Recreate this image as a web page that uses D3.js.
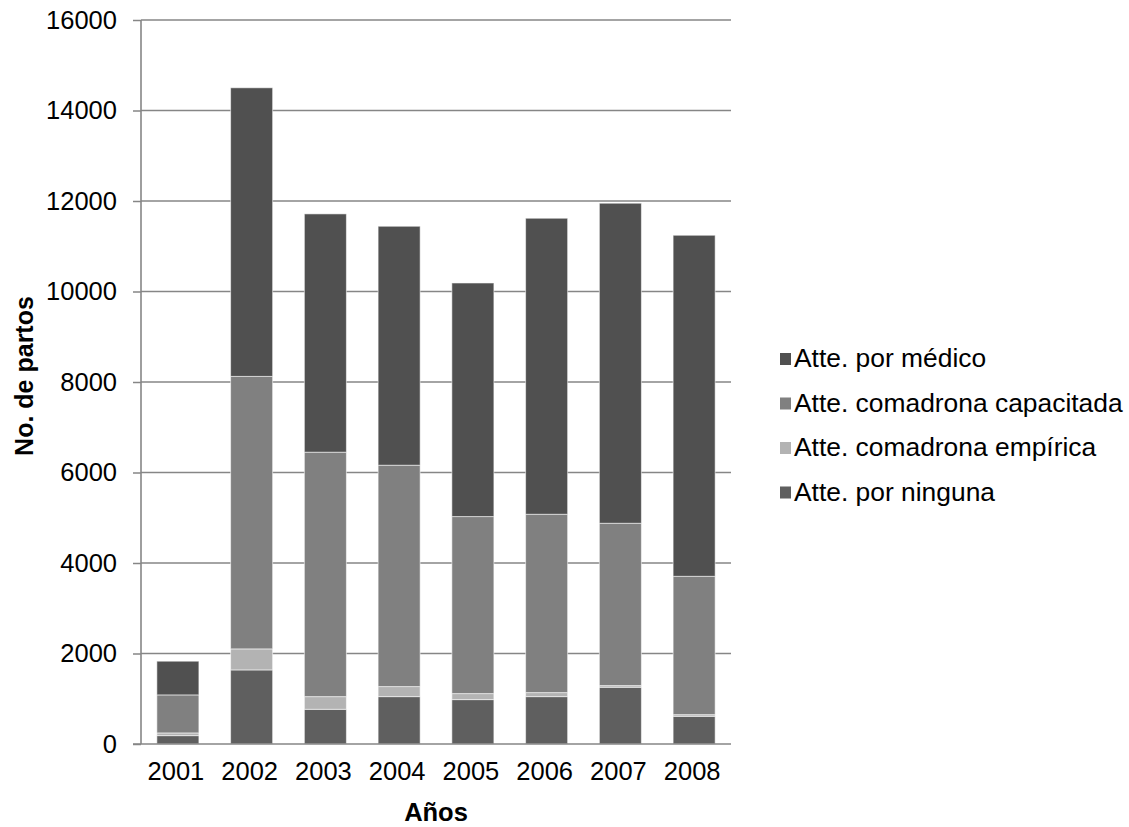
<!DOCTYPE html>
<html>
<head>
<meta charset="utf-8">
<script src="https://cdn.jsdelivr.net/npm/d3@7"></script>
<style>
  body { margin: 0; background: #fff; }
  text { font-family: "Liberation Sans", Arial, sans-serif; fill: #000; }
</style>
</head>
<body>
<div id="chart"></div>
<script>

// 1. Data

const years = ["2001", "2002", "2003", "2004", "2005", "2006", "2007", "2008"]

const ninguna     = [185, 1637, 767, 1047, 981, 1047, 1254, 612]
const empirica    = [60, 465, 280, 222, 133, 89, 37, 37]
const capacitada  = [840, 6022, 5402, 4892, 3912, 3941, 3587, 3057]
const medico      = [745, 6378, 5266, 5281, 5162, 6542, 7073, 7537]

const seriesNames  = ["Atte. por ninguna", "Atte. comadrona empírica", "Atte. comadrona capacitada", "Atte. por médico"]
const seriesValues = [ninguna, empirica, capacitada, medico]
const seriesColors = ["#5f5f5f", "#b3b3b3", "#808080", "#505050"]

const yTicks = [0, 2000, 4000, 6000, 8000, 10000, 12000, 14000, 16000]

// 2. Dimensions

const width = 1129
const height = 827
const margin = { top: 20, left: 141, right: 398, bottom: 83 }
const plotW = width - margin.left - margin.right
const plotH = height - margin.top - margin.bottom

const svg = d3.select("#chart")
  .append("svg")
    .attr("width", width)
    .attr("height", height)

const bounds = svg.append("g")
    .attr("transform", `translate(${margin.left},${margin.top})`)

// 3. Scales

const x = d3.scaleBand()
    .domain(years)
    .range([0, plotW])
    .paddingInner(0.43)
    .paddingOuter(0.215)

const y = d3.scaleLinear()
    .domain([0, 16000])
    .range([plotH, 0])

const table = years.map((yr, i) => {
  const row = { year: yr }
  seriesNames.forEach((s, j) => { row[s] = seriesValues[j][i] })
  return row
})
const stacked = d3.stack().keys(seriesNames)(table)

// 4. Grid + axes

bounds.append("g")
  .selectAll("line")
  .data(yTicks.slice(1))
  .enter().append("line")
    .attr("x1", 0)
    .attr("x2", plotW)
    .attr("y1", d => y(d))
    .attr("y2", d => y(d))
    .attr("stroke", "#868686")
    .attr("stroke-width", 1.5)

const yAxis = bounds.append("g")
    .call(d3.axisLeft(y).tickValues(yTicks).tickSize(8).tickPadding(16).tickFormat(d3.format("d")))
yAxis.select(".domain").remove()
yAxis.selectAll(".tick line").attr("stroke", "#868686").attr("stroke-width", 1.5)
yAxis.selectAll(".tick text")
    .style("font-family", "'Liberation Sans', Arial, sans-serif")
    .style("font-size", "25.5px")
    .attr("fill", "#000")

// 5. Bars

bounds.append("g")
  .selectAll("g")
  .data(stacked)
  .enter().append("g")
    .attr("fill", (d, i) => seriesColors[i])
  .selectAll("rect")
  .data(d => d)
  .enter().append("rect")
    .attr("x", d => x(d.data.year))
    .attr("width", x.bandwidth())
    .attr("y", d => y(d[1]))
    .attr("height", d => y(d[0]) - y(d[1]))
    .attr("stroke", "#ffffff")
    .attr("stroke-opacity", 0.55)
    .attr("stroke-width", 1)

// axis lines on top
bounds.append("line")
    .attr("x1", 0).attr("x2", 0)
    .attr("y1", 0).attr("y2", plotH)
    .attr("stroke", "#868686").attr("stroke-width", 1.6)
bounds.append("line")
    .attr("x1", -8).attr("x2", plotW)
    .attr("y1", plotH).attr("y2", plotH)
    .attr("stroke", "#868686").attr("stroke-width", 1.6)

const xAxis = bounds.append("g")
    .attr("transform", `translate(0,${plotH})`)
    .call(d3.axisBottom(x).tickSize(0).tickPadding(18))
xAxis.select(".domain").remove()
xAxis.selectAll(".tick text")
    .style("font-family", "'Liberation Sans', Arial, sans-serif")
    .style("font-size", "25.5px")
    .attr("fill", "#000")
    .attr("dx", "-2")

// 6. Titles

svg.append("text")
    .attr("x", margin.left + plotW / 2)
    .attr("y", 821)
    .attr("text-anchor", "middle")
    .style("font-size", "25.5px")
    .style("font-weight", "bold")
    .text("Años")

svg.append("text")
    .attr("transform", `translate(33,376) rotate(-90)`)
    .attr("text-anchor", "middle")
    .style("font-size", "25px")
    .style("font-weight", "bold")
    .text("No. de partos")

// 7. Legend (top = médico)

const legend = svg.append("g")
    .attr("transform", "translate(780,367)")

const legendOrder = [3, 2, 1, 0]
const legendItems = legend.selectAll("g")
  .data(legendOrder)
  .enter().append("g")
    .attr("transform", (d, i) => `translate(0,${i * 44.5})`)

legendItems.append("rect")
    .attr("x", 0)
    .attr("y", -14)
    .attr("width", 11)
    .attr("height", 12)
    .attr("fill", d => seriesColors[d])

legendItems.append("text")
    .attr("x", 14)
    .attr("y", 0)
    .style("font-size", "26.4px")
    .text(d => seriesNames[d])

</script>
</body>
</html>
